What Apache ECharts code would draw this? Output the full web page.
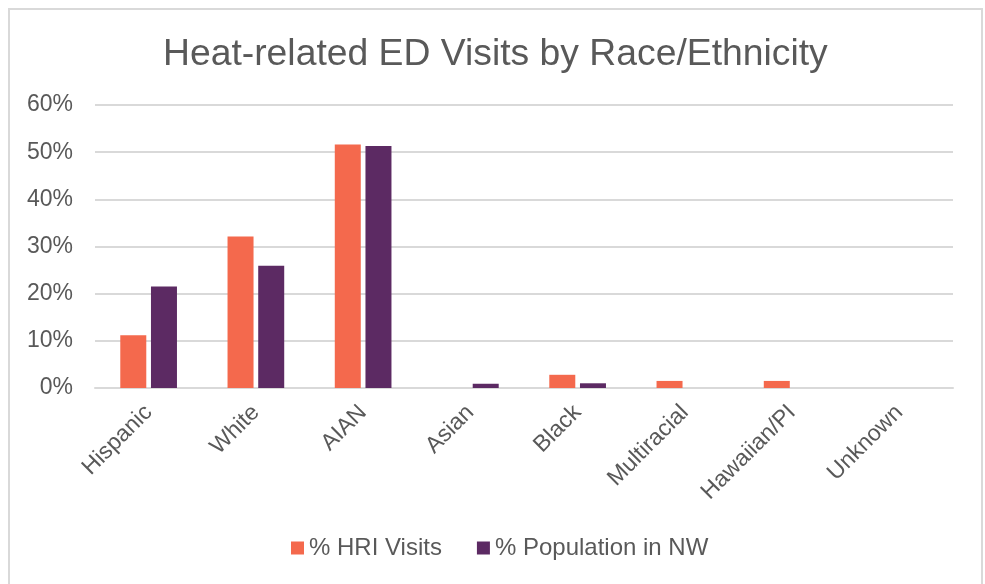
<!DOCTYPE html>
<html>
<head>
<meta charset="utf-8">
<script src="https://cdn.jsdelivr.net/npm/echarts@6/dist/echarts.min.js"></script>
<style>
  html, body { margin: 0; padding: 0; background: #fff; }
  #frame { position: absolute; left: 8px; top: 8px; width: 975px; height: 600px; border: 2px solid #d9d9d9; box-sizing: border-box; }
  #chart { position: absolute; left: 0; top: 0; width: 985px; height: 584px; }
</style>
</head>
<body>
<div id="frame"></div>
<div id="chart"></div>
<script>
const categories = ['Hispanic', 'White', 'AIAN', 'Asian', 'Black', 'Multiracial', 'Hawaiian/PI', 'Unknown'];
const hriVisits = [11.2, 32.1, 51.6, 0, 2.8, 1.5, 1.5, 0];
const populationNW = [21.5, 25.9, 51.3, 0.9, 1.0, 0, 0, 0];
const yTicks = [0, 10, 20, 30, 40, 50, 60];

const textColor = '#595959';
const font = 'Liberation Sans, Arial, sans-serif';

const chart = echarts.init(document.getElementById('chart'), null, { renderer: 'canvas' });
chart.setOption({
  animation: false,
  backgroundColor: 'transparent',
  title: {
    text: 'Heat-related ED Visits by Race/Ethnicity',
    left: 158,
    top: 31,
    textStyle: { color: textColor, fontFamily: font, fontSize: 37.3, fontWeight: 'normal' }
  },
  legend: {
    bottom: 19,
    left: 286,
    itemWidth: 13,
    itemHeight: 13,
    itemGap: 35,
    icon: 'rect',
    textStyle: { color: textColor, fontFamily: font, fontSize: 24 },
    data: ['% HRI Visits', '% Population in NW']
  },
  grid: { left: 95, right: 32, top: 105, bottom: 196 },
  xAxis: {
    type: 'category',
    data: categories,
    axisLine: { lineStyle: { color: '#d9d9d9', width: 2 } },
    axisTick: { show: false },
    axisLabel: { rotate: 45, color: textColor, fontFamily: font, fontSize: 23, margin: 21, interval: 0 }
  },
  yAxis: {
    type: 'value',
    min: yTicks[0],
    max: yTicks[yTicks.length - 1],
    interval: 10,
    axisLine: { show: false },
    axisTick: { show: false },
    splitLine: { lineStyle: { color: '#d9d9d9', width: 2 } },
    axisLabel: { formatter: '{value}%', color: textColor, fontFamily: font, fontSize: 23, margin: 22 }
  },
  series: [
    {
      name: '% HRI Visits',
      type: 'bar',
      data: hriVisits,
      barWidth: 26,
      barGap: '18%',
      itemStyle: { color: '#f4694d' }
    },
    {
      name: '% Population in NW',
      type: 'bar',
      data: populationNW,
      barWidth: 26,
      itemStyle: { color: '#5c2a63' }
    }
  ]
});
</script>
</body>
</html>
